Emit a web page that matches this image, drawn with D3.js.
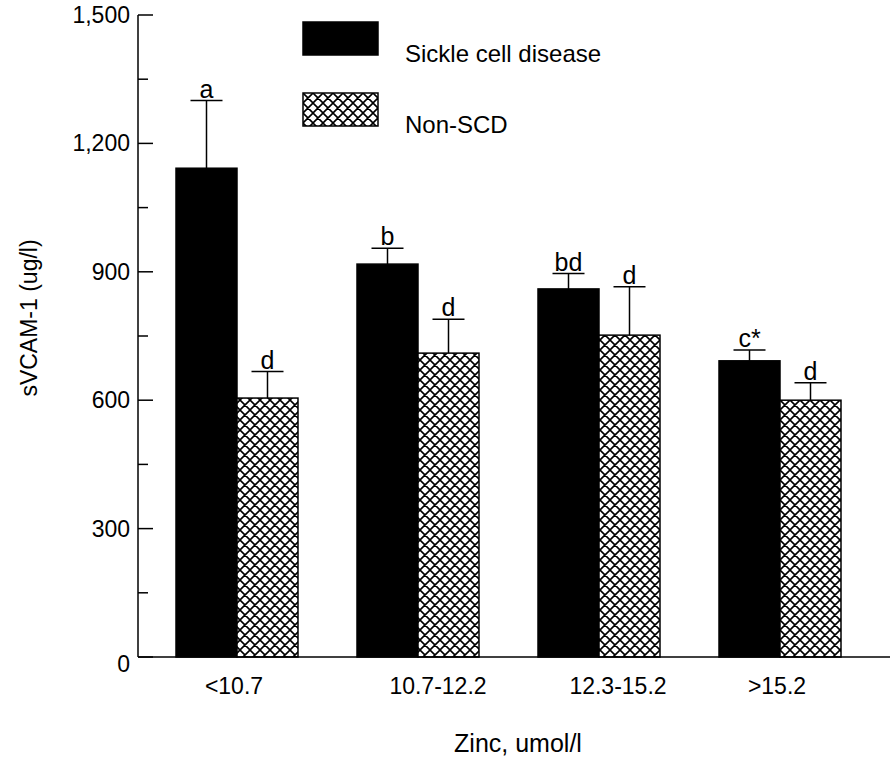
<!DOCTYPE html>
<html>
<head>
<meta charset="utf-8">
<script src="https://cdn.jsdelivr.net/npm/d3@7"></script>
<style>
  html, body { margin: 0; padding: 0; background: #fff; }
  svg { display: block; }
  text { font-family: 'Liberation Sans', Arial, sans-serif; fill: #000; }
</style>
</head>
<body>
<div id="chart"></div>
<script>
// data
const zincGroups = ['<10.7', '10.7-12.2', '12.3-15.2', '>15.2'];
const seriesNames = ['Sickle cell disease', 'Non-SCD'];
const scdMean = [1142, 918, 860, 692];
const scdError = [158, 37, 36, 25];
const nonScdMean = [605, 710, 752, 600];
const nonScdError = [62, 79, 113, 41];
const scdLetters = ['a', 'b', 'bd', 'c*'];
const nonScdLetters = ['d', 'd', 'd', 'd'];
const yTicks = [0, 300, 600, 900, 1200, 1500];
const yMinorTicks = [150, 450, 750, 1050, 1350];

const width = 890, height = 758;
const svg = d3.select('#chart').append('svg')
    .attr('width', width).attr('height', height);

// crosshatch pattern
const defs = svg.append('defs');
const pat = defs.append('pattern')
    .attr('id', 'xhatch')
    .attr('patternUnits', 'userSpaceOnUse')
    .attr('width', 10).attr('height', 10);
pat.append('rect').attr('width', 10).attr('height', 10).attr('fill', '#fff');
pat.append('path')
    .attr('d', 'M-1,1 L1,-1 M0,10 L10,0 M9,11 L11,9 M-1,9 L1,11 M0,0 L10,10 M9,-1 L11,1')
    .attr('stroke', '#000').attr('stroke-width', 1.6);

const y = d3.scaleLinear().domain([0, 1500]).range([657, 15]);
const x0 = d3.scaleBand().domain(zincGroups).range([176, 841]).paddingInner(0.326).paddingOuter(0);
const x1 = d3.scaleBand().domain(seriesNames).range([0, x0.bandwidth()]);

const axisX = 138;

const series = [
    { name: seriesNames[0], mean: scdMean, err: scdError, letters: scdLetters, fill: '#000' },
    { name: seriesNames[1], mean: nonScdMean, err: nonScdError, letters: nonScdLetters, fill: 'url(#xhatch)' }
];

// bars
series.forEach(s => {
    const g = svg.append('g');
    const rows = zincGroups.map((c, i) => ({ c, v: s.mean[i], e: s.err[i], l: s.letters[i] }));

    g.selectAll('rect').data(rows).join('rect')
        .attr('x', d => x0(d.c) + x1(s.name))
        .attr('y', d => y(d.v))
        .attr('width', x1.bandwidth())
        .attr('height', d => y(0) - y(d.v))
        .attr('fill', s.fill)
        .attr('stroke', '#000').attr('stroke-width', 1.5);

    const cx = d => x0(d.c) + x1(s.name) + x1.bandwidth() / 2;

    g.selectAll('line.err').data(rows).join('line')
        .attr('class', 'err')
        .attr('x1', cx).attr('x2', cx)
        .attr('y1', d => y(d.v)).attr('y2', d => y(d.v + d.e))
        .attr('stroke', '#000').attr('stroke-width', 1.5);

    g.selectAll('line.cap').data(rows).join('line')
        .attr('class', 'cap')
        .attr('x1', d => cx(d) - 16).attr('x2', d => cx(d) + 16)
        .attr('y1', d => y(d.v + d.e)).attr('y2', d => y(d.v + d.e))
        .attr('stroke', '#000').attr('stroke-width', 1.5);

    g.selectAll('text').data(rows).join('text')
        .attr('x', cx)
        .attr('y', d => y(d.v + d.e) - 3)
        .attr('text-anchor', 'middle')
        .attr('font-size', 25)
        .text(d => d.l);
});

// y axis
const yAxis = svg.append('g').attr('transform', `translate(${axisX},0)`);
yAxis.append('line').attr('x1', 0).attr('x2', 0).attr('y1', y(1500)).attr('y2', y(0))
    .attr('stroke', '#000').attr('stroke-width', 1.5);
yAxis.selectAll('line.major').data(yTicks).join('line')
    .attr('class', 'major')
    .attr('x1', 0).attr('x2', 15)
    .attr('y1', d => y(d)).attr('y2', d => y(d))
    .attr('stroke', '#000').attr('stroke-width', 1.5);
yAxis.selectAll('line.minor').data(yMinorTicks).join('line')
    .attr('class', 'minor')
    .attr('x1', 0).attr('x2', 10)
    .attr('y1', d => y(d)).attr('y2', d => y(d))
    .attr('stroke', '#000').attr('stroke-width', 1.5);
yAxis.selectAll('text').data(yTicks).join('text')
    .attr('x', -8)
    .attr('y', d => y(d) + (d === 0 ? 15 : 8))
    .attr('text-anchor', 'end')
    .attr('font-size', 23)
    .text(d => d3.format(',')(d));

// x axis
svg.append('line')
    .attr('x1', axisX).attr('x2', width)
    .attr('y1', y(0)).attr('y2', y(0))
    .attr('stroke', '#000').attr('stroke-width', 1.5);

const labelShift = [-3, 20, 19, -3];
svg.append('g').selectAll('text').data(zincGroups).join('text')
    .attr('x', (d, i) => x0(d) + x0.bandwidth() / 2 + labelShift[i])
    .attr('y', 694)
    .attr('text-anchor', 'middle')
    .attr('font-size', 23)
    .text(d => d);

// axis titles
svg.append('text')
    .attr('x', 518).attr('y', 752)
    .attr('text-anchor', 'middle')
    .attr('font-size', 25)
    .text('Zinc, umol/l');

svg.append('text')
    .attr('transform', 'translate(37,318) rotate(-90)')
    .attr('text-anchor', 'middle')
    .attr('font-size', 23)
    .text('sVCAM-1 (ug/l)');

// legend
const legend = svg.append('g').selectAll('g').data(series).join('g')
    .attr('transform', (d, i) => `translate(303,${22 + i * 71})`);
legend.append('rect')
    .attr('width', 75).attr('height', 33)
    .attr('fill', d => d.fill)
    .attr('stroke', '#000').attr('stroke-width', 1.5);
legend.append('text')
    .attr('x', 102).attr('y', 40)
    .attr('font-size', 24)
    .text(d => d.name);
</script>
</body>
</html>
